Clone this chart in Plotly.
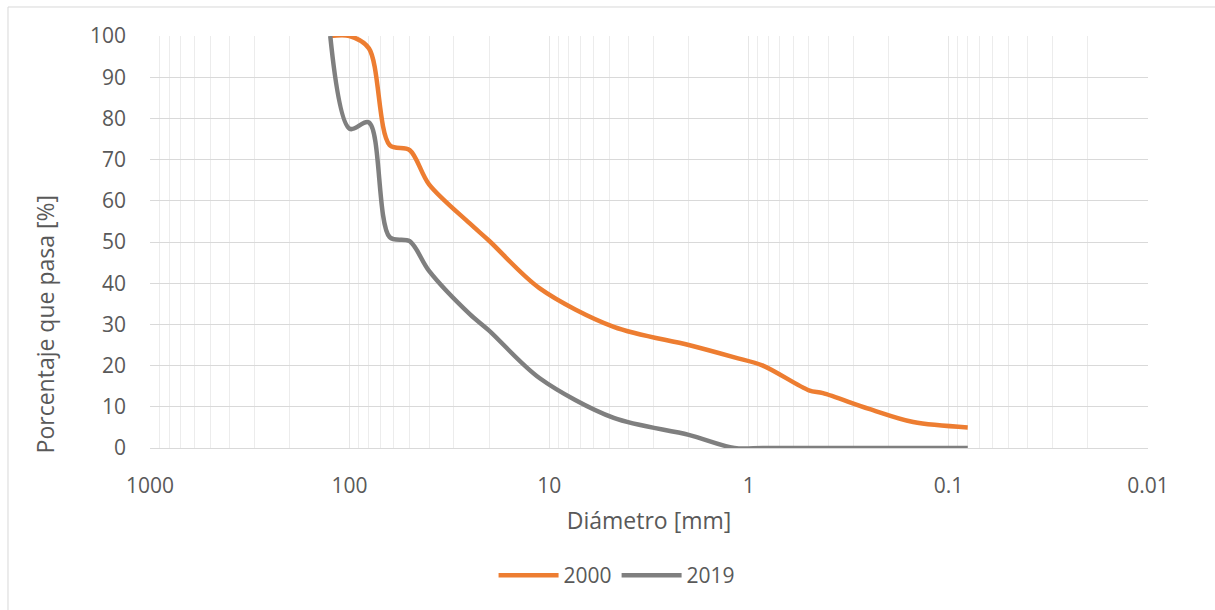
import plotly.graph_objects as go

# Sieve openings (mm) and cumulative percentage passing
diametro_mm = [125, 100, 80, 63, 50, 40, 25, 20, 11.2, 4.75, 2.0, 1.18, 0.85, 0.5, 0.425, 0.25, 0.15, 0.08]
pasa_2000 = [100, 100, 97, 73.5, 72.3, 64, 54.5, 50.3, 38.8, 29.4, 25, 22, 20, 14, 13.3, 9.5, 6.3, 5]
pasa_2019 = [100, 77.5, 79, 51.2, 50.2, 43, 32.5, 28.5, 17, 7.3, 3.2, 0, 0, 0, 0, 0, 0, 0]

x_ticks = [1000, 100, 10, 1, 0.1, 0.01]
x_tick_text = ["1000", "100", "10", "1", "0.1", "0.01"]
x_minor = [k * 10.0 ** e for e in range(-2, 3) for k in range(2, 10)]

FONT = "Open Sans"
TEXT = "#595959"

fig = go.Figure()
fig.add_trace(go.Scatter(
    x=diametro_mm, y=pasa_2000, name="2000", mode="lines",
    line=dict(color="#ED7D31", width=4.5, shape="spline", smoothing=0.9),
))
fig.add_trace(go.Scatter(
    x=diametro_mm, y=pasa_2019, name="2019", mode="lines",
    line=dict(color="#7F7F7F", width=4.5, shape="spline", smoothing=0.9),
))

fig.update_layout(
    width=1215, height=610,
    margin=dict(l=150, r=67, t=36, b=162),
    paper_bgcolor="white", plot_bgcolor="white",
    font=dict(family=FONT, color=TEXT, size=21),
    showlegend=True,
    legend=dict(orientation="h", x=0.468, xanchor="center", y=-0.26, yanchor="top",
                font=dict(size=21, color=TEXT), itemwidth=60, traceorder="normal",
                tracegroupgap=0),
    shapes=[dict(type="rect", xref="paper", yref="paper",
                 x0=-0.1423, x1=1.2, y0=-0.5, y1=1.0704,
                 line=dict(color="#d9d9d9", width=1), fillcolor="rgba(0,0,0,0)", layer="below")],
    annotations=[dict(text="Porcentaje que pasa [%]", textangle=-90,
                      xref="paper", yref="paper", x=-0.1052, y=0.30,
                      xanchor="center", yanchor="middle", showarrow=False,
                      font=dict(size=23, color=TEXT))],
)

fig.update_xaxes(
    type="log", range=[3, -2],
    tickmode="array", tickvals=x_ticks, ticktext=x_tick_text,
    showgrid=True, gridcolor="#e6e6e6", gridwidth=1,
    minor=dict(tickmode="array", tickvals=x_minor, showgrid=True, gridcolor="#ececec", gridwidth=1, ticks=""),
    showline=True, linecolor="#d9d9d9", linewidth=1, mirror=False,
    ticks="", ticklabelstandoff=19,
    tickfont=dict(size=21, color=TEXT),
    title=dict(text="Diámetro [mm]", font=dict(size=23, color=TEXT), standoff=14),
    zeroline=False,
)
fig.update_yaxes(
    range=[0, 100], dtick=10, tick0=0,
    showgrid=True, gridcolor="#d9d9d9", gridwidth=1,
    showline=False, zeroline=False,
    ticks="", ticklabelstandoff=23,
    tickfont=dict(size=21, color=TEXT),
)

fig.write_html("out.html")
